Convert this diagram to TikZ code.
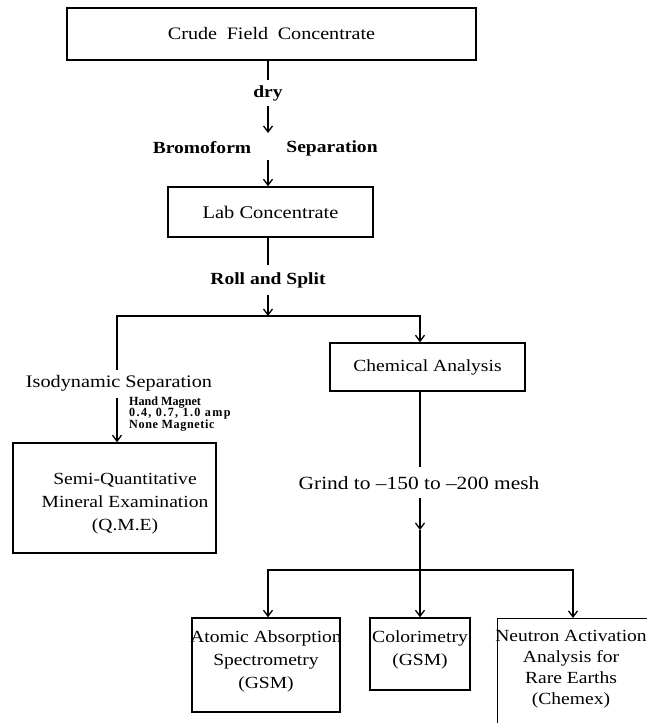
\documentclass[tikz,border=0pt]{standalone}
\usepackage{fontspec}
\setmainfont{Liberation Serif}[FakeStretch=1.15]
\newfontfamily\smallfont{Liberation Serif}[FakeStretch=0.97]
\usetikzlibrary{arrows.meta}
\begin{document}
\begin{tikzpicture}[x=1pt,y=-1pt,
  >={Straight Barb[length=6pt,width=9pt]},
  box/.style={draw, line width=1.4pt, inner sep=0pt, align=center, font=\fontsize{17}{23}\selectfont},
  frame/.style={draw, line width=1.4pt, inner sep=0pt},
  txt/.style={inner sep=0pt, align=center, font=\fontsize{17}{23}\selectfont},
  btxt/.style={inner sep=0pt, font=\fontsize{17}{23}\selectfont\bfseries},
  note/.style={inner sep=0pt, align=left, anchor=west, font=\smallfont\fontsize{12.5}{11.7}\selectfont\bfseries},
  ln/.style={line width=1.3pt},
  arr/.style={ln, ->}]
\useasboundingbox (0,0) rectangle (647,723);
\clip (0,0) rectangle (647,723);

\node[box, minimum width=409pt, minimum height=52pt, font=\fontsize{17.5}{23}\selectfont] (crude) at (271.5,34) {Crude\hspace{0.55em}Field\hspace{0.55em}Concentrate};
\node[btxt] (dry) at (268,93) {dry};
\node[btxt] (brom) at (202,148) {Bromoform};
\node[btxt] (sep) at (332,148) {Separation};
\node[box, minimum width=205pt, minimum height=50pt, font=\fontsize{17.8}{23}\selectfont] (lab) at (270.5,212) {Lab Concentrate};
\node[btxt] (roll) at (268,280) {Roll and Split};
\node[box, minimum width=195pt, minimum height=48pt] (chem) at (427.5,367) {Chemical Analysis};
\node[txt, font=\fontsize{17.6}{23}\selectfont] (iso) at (119,383) {Isodynamic Separation};
\node[note] (mag) at (129,414) {Hand Magnet\\{\addfontfeature{LetterSpace=11}0.4, 0.7, 1.0 amp}\\{\addfontfeature{LetterSpace=5}None Magnetic}};
\node[frame, minimum width=203pt, minimum height=110pt] (sq) at (114.5,498) {};
\node[txt] (sqt) at (125,504) {Semi-Quantitative\\Mineral Examination\\(Q.M.E)};
\node[txt, font=\fontsize{18.6}{23}\selectfont] (grind) at (419,483) {Grind to –150 to –200 mesh};
\node[frame, minimum width=148pt, minimum height=94pt] (aa) at (266,665) {};
\node[txt] (aat) at (266,661) {Atomic Absorption\\Spectrometry\\(GSM)};
\node[frame, minimum width=100pt, minimum height=72pt] (col) at (420,654) {};
\node[txt] (colt) at (420,650) {Colorimetry\\(GSM)};
\node[frame, minimum width=200pt, minimum height=150pt, anchor=north west] (nabox) at (497,618) {};
\node[txt, font=\fontsize{17}{21}\selectfont] (na) at (571,669) {Neutron Activation\\Analysis for\\Rare Earths\\(Chemex)};

\coordinate (a1) at (268,80);
\coordinate (a2) at (268,106);
\coordinate (a3) at (268,133);
\coordinate (a4) at (268,160);
\coordinate (b1) at (268,265);
\coordinate (b2) at (268,295);
\coordinate (jm) at (268,316);
\coordinate (jr) at (420,316);
\coordinate (c1) at (117,370);
\coordinate (c2) at (117,398);
\coordinate (g1) at (420,467);
\coordinate (g2) at (420,498);
\coordinate (g3) at (420,530);
\coordinate (hl) at (268,570);
\coordinate (hr) at (573,570);

\draw[ln] (crude.south -| a1) -- (a1);
\draw[arr] (a2) -- (a3);
\draw[arr] (a4) -- (lab.north -| a4);
\draw[ln] (lab.south -| b1) -- (b1);
\draw[arr] (b2) -- (jm);
\draw[arr] (c1) |- (jr) -- (chem.north -| jr);
\draw[arr] (c2) -- (sq.north -| c2);
\draw[ln] (chem.south -| g1) -- (g1);
\draw[arr] (g2) -- (g3);
\draw[arr] (g3) -- (col.north);
\draw[ln, <->] (aa.north -| hl) -- (hl) -- (hr) -- (nabox.north -| hr);
\end{tikzpicture}
\end{document}
